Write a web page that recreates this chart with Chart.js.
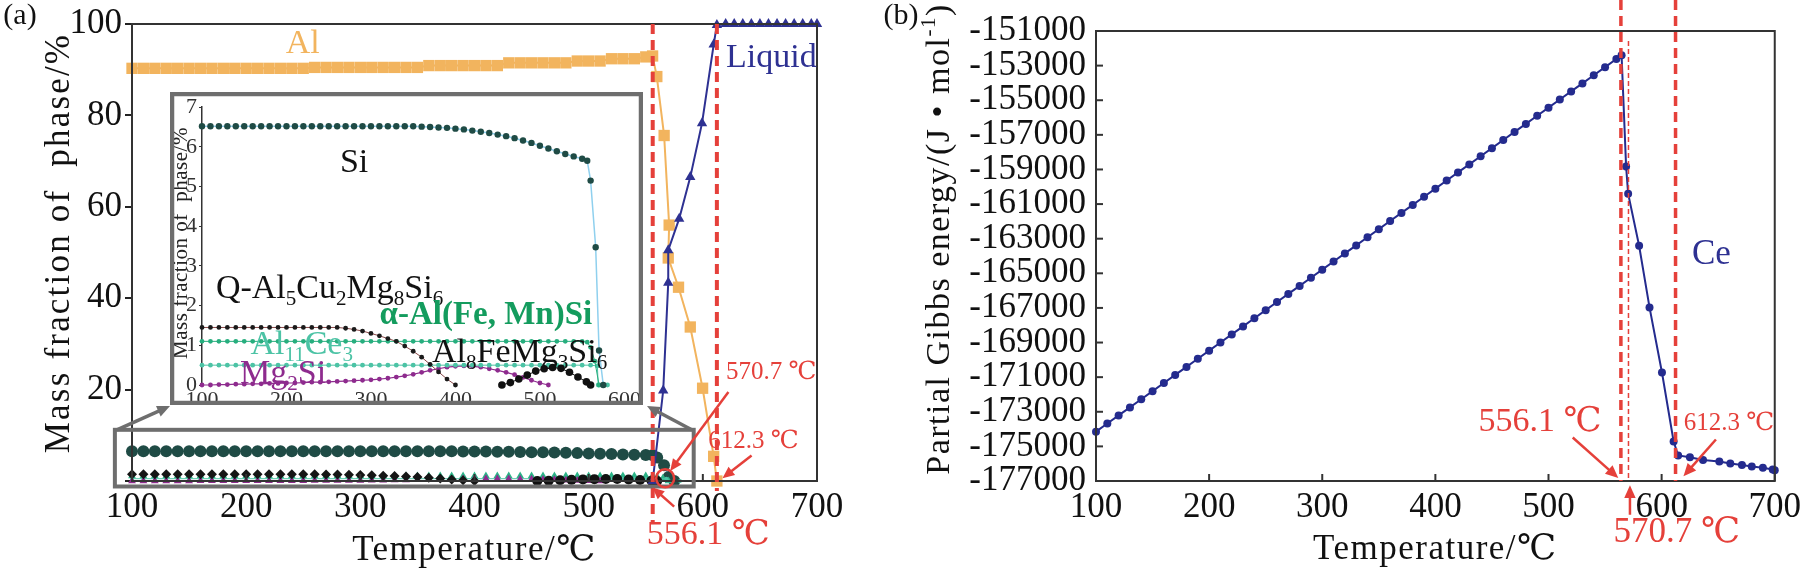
<!DOCTYPE html>
<html lang="en">
<head>
<meta charset="UTF-8">
<title>Phase fraction and partial Gibbs energy</title>
<script src="https://cdn.jsdelivr.net/npm/chart.js"></script>
<style>
  body { margin: 0; background: #fff; width: 1807px; height: 568px; position: relative; overflow: hidden; }
  canvas { position: absolute; top: 0; }
</style>
</head>
<body>
<canvas id="chartA" width="860" height="568" style="left:0"></canvas>
<canvas id="chartB" width="947" height="568" style="left:860px"></canvas>
<canvas id="inset" width="473" height="313"></canvas>

<script>
// ---------- data ----------
const tenStep = [100,110,120,130,140,150,160,170,180,190,200,210,220,230,240,250,260,270,280,290,
                 300,310,320,330,340,350,360,370,380,390,400,410,420,430,440,450,460,470,480,490,
                 500,510,520,530,540,550];

// (a) Al and Liquid, mass %
const alTemp = [...tenStep, 556, 559.7, 566.1, 570.5, 569.7, 578.7, 589, 599.8, 609.5, 612.3];
const alFrac = [90.3,90.3,90.3,90.3,90.3,90.3,90.3,90.3,90.3,90.3,90.3,90.3,90.3,90.3,90.3,90.3,
                90.5,90.5,90.5,90.5,90.5,90.5,90.5,90.5,90.5,90.5,
                90.9,90.9,90.9,90.9,90.9,90.9,90.9,
                91.5,91.5,91.5,91.5,91.5,91.5,
                91.9,91.9,91.9,92.4,92.4,92.4,92.8,
                93.0, 88.5, 75.6, 56.0, 48.8, 42.4, 33.7, 20.3, 5.4, 0];

const liquidTemp = [556.1, 565.3, 569.7, 569.7, 579.3, 589, 599.3, 609.5, 612.3,
                    620, 627.5, 635, 642.5, 650, 657.5, 665, 672.5, 680, 687.5, 695, 700];
const liquidFrac = [0, 19.8, 43.4, 50.5, 57.4, 66.5, 78.3, 95.5, 99.8,
                    100, 100, 100, 100, 100, 100, 100, 100, 100, 100, 100, 100];

// minor phases, mass % (inset and bottom of panel a)
const siTemp = [...tenStep, 556, 560, 566, 570, 575];
const siFrac = [6.52,6.52,6.52,6.52,6.52,6.52,6.52,6.52,6.52,6.52,6.52,6.52,6.52,
                6.52,6.52,6.52,6.52,6.52,6.52,6.52,6.52,6.52,6.52,6.52,6.52,6.52,
                6.51,6.50,6.49,6.48,6.46,6.44,6.41,6.38,6.35,6.31,
                6.27,6.22,6.16,6.10,6.03,5.96,5.89,5.82,5.76,5.70,
                5.65,5.15,3.47,0.87,0];

const qTemp = [100,110,120,130,140,150,160,170,180,190,200,210,220,230,240,250,260,270,280,290,
               300,310,320,330,340,350,360,370,380,390,400];
const qFrac = [1.45,1.45,1.45,1.45,1.45,1.45,1.45,1.45,1.45,1.45,1.45,1.45,1.45,1.45,1.45,1.45,1.45,
               1.43,1.40,1.36,1.30,1.24,1.17,1.10,0.98,0.85,0.70,0.52,0.33,0.15,0];

const alphaTemp = [...tenStep, 556, 560, 565, 570];
const alphaFrac = [1.1,1.1,1.1,1.1,1.1,1.1,1.1,1.1,1.1,1.1,1.1,1.1,1.1,1.1,1.1,1.1,
                   1.1,1.1,1.1,1.1,1.1,1.1,1.1,1.1,1.1,1.1,1.1,1.1,1.1,1.1,1.1,
                   1.1,1.1,1.1,1.1,1.1,1.1,1.1,1.1,1.1,1.1,1.1,1.1,1.1,1.1,1.1,
                   1.08,0.95,0.6,0];

const ceTemp = [...tenStep, 560, 568, 569, 580];
const ceFrac = [0.5,0.5,0.5,0.5,0.5,0.5,0.5,0.5,0.5,0.5,0.5,0.5,0.5,0.5,0.5,0.5,
                0.5,0.5,0.5,0.5,0.5,0.5,0.5,0.5,0.5,0.5,0.5,0.5,0.5,0.5,0.5,
                0.5,0.5,0.5,0.5,0.5,0.5,0.5,0.5,0.5,0.5,0.5,0.5,0.5,0.5,0.5,
                0.5,0.48,0,0];

const mgTemp = [100,110,120,130,140,150,160,170,180,190,200,210,220,230,240,250,260,270,280,290,
                300,310,320,330,340,350,360,370,380,390,400,410,420,430,440,450,460,470,480,490,500,510];
const mgFrac = [0,0,0.01,0.01,0.02,0.02,0.03,0.03,0.04,0.04,0.05,0.05,0.06,0.07,0.07,0.08,0.09,0.10,0.11,0.12,
                0.13,0.15,0.17,0.20,0.23,0.27,0.32,0.37,0.41,0.45,0.47,0.48,0.47,0.45,0.41,0.37,0.32,0.26,0.19,0.12,0.05,0];

const al8Temp = [455,465,475,485,495,505,515,525,535,545,555,560];
const al8Frac = [0,0.06,0.15,0.25,0.35,0.41,0.44,0.42,0.32,0.20,0.08,0];

// (b) partial Gibbs energy of Ce, J/mol
const gibbsTemp = [...tenStep, 560, 564.6, 568.6, 570.4, 580.1, 589.3, 600.3, 610.6,
                   614.6, 625, 636.6, 651, 660.7, 671, 679.7, 689.5, 698.2, 700];
const gibbsEnergy = [-174150,-173680,-173210,-172750,-172280,-171810,-171340,-170870,-170410,-169940,
                     -169470,-169000,-168530,-168070,-167600,-167130,-166660,-166190,-165730,-165260,
                     -164790,-164320,-163850,-163390,-162920,-162450,-161980,-161510,-161050,-160580,
                     -160110,-159640,-159170,-158710,-158240,-157770,-157300,-156830,-156370,-155900,
                     -155430,-154960,-154490,-154030,-153560,-153090,
                     -152620,-152400,-158830,-160400,-163410,-166970,-170730,-174720,
                     -175520,-175630,-175790,-175870,-175990,-176070,-176160,-176240,-176340,-176380];

// axis ticks
const tempTicks = [100, 200, 300, 400, 500, 600, 700];
const fracTicks = [0, 20, 40, 60, 80, 100];
const insetTempTicks = [100, 200, 300, 400, 500, 600];
const insetFracTicks = [0, 1, 2, 3, 4, 5, 6, 7];
const gibbsTicks = [-177000,-175000,-173000,-171000,-169000,-167000,-165000,
                    -163000,-161000,-159000,-157000,-155000,-153000,-151000];

// marked temperatures
const markA = [556.1, 612.3];
const markB = [564, 612.3];
const eutectic = 570.7;

// ---------- styling ----------
const FONT = '"Liberation Serif", "DejaVu Serif", "Times New Roman", serif';
const RED = '#E5403A';
const ORANGE = '#F2B45E';
const NAVY = '#2E3192';
const GRAY = '#6E6E6E';
const insetRect = { left: 170, top: 92, width: 473, height: 313 };

Chart.defaults.font.family = FONT;
Chart.defaults.color = '#111';
Chart.defaults.animation = false;
Chart.defaults.events = [];
Chart.defaults.plugins.legend.display = false;
Chart.defaults.plugins.tooltip.enabled = false;

const pts = (xs, ys) => xs.map((x, i) => ({ x: x, y: ys[i] }));
const fixTicks = arr => scale => { scale.ticks = arr.map(v => ({ value: v })); };

function series(label, xs, ys, color, opts) {
  return Object.assign({
    label: label, data: pts(xs, ys), borderColor: color, backgroundColor: color,
    pointBackgroundColor: color, pointBorderColor: color, pointBorderWidth: 0,
    borderWidth: 1.5, pointRadius: 3, pointStyle: 'circle', tension: 0, clip: false
  }, opts || {});
}

function richText(ctx, parts, x, y, size, color, weight) {
  ctx.save();
  ctx.fillStyle = color;
  ctx.textBaseline = 'middle';
  ctx.textAlign = 'left';
  const w = weight || 'normal';
  const items = parts.map(p => {
    const t = typeof p === 'string' ? p : p[0];
    const kind = typeof p === 'string' ? '' : p[1];
    const s = kind ? size * 0.62 : size;
    ctx.font = w + ' ' + s + 'px ' + FONT;
    return { t: t, kind: kind, s: s, w: ctx.measureText(t).width };
  });
  let cx = x - items.reduce((a, b) => a + b.w, 0) / 2;
  items.forEach(it => {
    ctx.font = w + ' ' + it.s + 'px ' + FONT;
    const dy = it.kind === 'sub' ? size * 0.3 : it.kind === 'sup' ? -size * 0.3 : 0;
    ctx.fillText(it.t, cx, y + dy);
    cx += it.w;
  });
  ctx.restore();
}

function vText(ctx, parts, x, y, size, color, spacing) {
  ctx.save();
  ctx.translate(x, y);
  ctx.rotate(-Math.PI / 2);
  ctx.letterSpacing = (spacing || 0) + 'px';
  richText(ctx, parts, 0, 0, size, color);
  ctx.restore();
}

function arrow(ctx, x0, y0, x1, y1, color, lw, head) {
  const a = Math.atan2(y1 - y0, x1 - x0);
  ctx.save();
  ctx.strokeStyle = color; ctx.fillStyle = color; ctx.lineWidth = lw;
  ctx.beginPath();
  ctx.moveTo(x0, y0);
  ctx.lineTo(x1 - Math.cos(a) * head * 0.8, y1 - Math.sin(a) * head * 0.8);
  ctx.stroke();
  ctx.beginPath();
  ctx.moveTo(x1, y1);
  ctx.lineTo(x1 - head * Math.cos(a - 0.42), y1 - head * Math.sin(a - 0.42));
  ctx.lineTo(x1 - head * Math.cos(a + 0.42), y1 - head * Math.sin(a + 0.42));
  ctx.closePath();
  ctx.fill();
  ctx.restore();
}

// frame round the plot area, short inward ticks on x (and on y when asked)
function frameAndTicks(ctx, chart, yTicksInside) {
  const ca = chart.chartArea;
  ctx.save();
  ctx.strokeStyle = '#333';
  ctx.lineWidth = 2;
  ctx.strokeRect(ca.left, ca.top, ca.right - ca.left, ca.bottom - ca.top);
  const sx = chart.scales.x, sy = chart.scales.y;
  tempTicks.forEach(v => {
    const px = sx.getPixelForValue(v);
    ctx.beginPath(); ctx.moveTo(px, ca.bottom); ctx.lineTo(px, ca.bottom - 7); ctx.stroke();
  });
  if (yTicksInside) {
    yTicksInside.forEach(v => {
      const py = sy.getPixelForValue(v);
      ctx.beginPath(); ctx.moveTo(ca.left, py); ctx.lineTo(ca.left + 7, py); ctx.stroke();
    });
  }
  ctx.restore();
}

function dashed(ctx, x, y0, y1, lw, dash) {
  ctx.save();
  ctx.strokeStyle = RED; ctx.lineWidth = lw; ctx.setLineDash(dash);
  ctx.beginPath(); ctx.moveTo(x, y0); ctx.lineTo(x, y1); ctx.stroke();
  ctx.restore();
}

// ---------- panel (a) ----------
const textsA = [
  { parts: ['Al'], t: 249.5, f: 95.5, size: 34, color: ORANGE },
  { parts: ['Liquid'], t: 660, f: 92.5, size: 34, color: NAVY },
  { parts: ['570.7 ℃'], t: 660, f: 23.8, size: 25, color: RED },
  { parts: ['612.3 ℃'], t: 644.4, f: 8.6, size: 25, color: RED },
  { parts: ['556.1 ℃'], t: 604.8, f: -11.9, size: 34, color: RED }
];
const arrowsA = [
  [622.4, 19.5, 571.4, 2.2],
  [642.7, 5.6, 617.2, 0.6],
  [574.9, -5.6, 555.8, -1.4]
];
const zoomWindow = { t0: 85, t1: 592, f0: -1.2, f1: 11.2 };

const decorA = {
  id: 'decorA',
  afterDraw(chart) {
    const ctx = chart.ctx, sx = chart.scales.x, sy = chart.scales.y, ca = chart.chartArea;
    frameAndTicks(ctx, chart);
    dashed(ctx, sx.getPixelForValue(markA[0]), ca.top, ca.bottom + 42, 4, [10, 6]);
    dashed(ctx, sx.getPixelForValue(markA[1]), ca.top, ca.bottom + 10, 4, [10, 6]);

    // zoom window and connectors to the inset
    const bx0 = sx.getPixelForValue(zoomWindow.t0), bx1 = sx.getPixelForValue(zoomWindow.t1);
    const by0 = sy.getPixelForValue(zoomWindow.f1), by1 = sy.getPixelForValue(zoomWindow.f0);
    ctx.save();
    ctx.strokeStyle = GRAY; ctx.lineWidth = 4;
    ctx.strokeRect(bx0, by0, bx1 - bx0, by1 - by0);
    ctx.restore();
    const ib = insetRect.top + insetRect.height;
    arrow(ctx, bx0 + 2, by0, insetRect.left, ib + 1, GRAY, 3.5, 14);
    arrow(ctx, bx1 - 2, by0, insetRect.left + insetRect.width + 4, ib + 1, GRAY, 3.5, 14);

    // red marks
    ctx.save();
    ctx.strokeStyle = RED; ctx.lineWidth = 2.5;
    ctx.beginPath();
    ctx.arc(sx.getPixelForValue(567), sy.getPixelForValue(0.6), 9, 0, Math.PI * 2);
    ctx.stroke();
    ctx.restore();
    arrowsA.forEach(a => arrow(ctx, sx.getPixelForValue(a[0]), sy.getPixelForValue(a[1]),
                                    sx.getPixelForValue(a[2]), sy.getPixelForValue(a[3]), RED, 2.5, 13));
    textsA.forEach(t => richText(ctx, t.parts, sx.getPixelForValue(t.t), sy.getPixelForValue(t.f), t.size, t.color));

    // titles
    const cx = (ca.left + ca.right) / 2;
    ctx.save(); ctx.letterSpacing = '1.5px';
    richText(ctx, ['Temperature/℃'], cx, 551, 35, '#111');
    ctx.restore();
    vText(ctx, ['Mass fraction of  phase/%'], 60, 243, 35, '#111', 2.2);
    richText(ctx, ['(a)'], 20, 16, 30, '#111');
  }
};

new Chart(document.getElementById('chartA'), {
  type: 'line',
  data: {
    datasets: [
      series('Liquid', liquidTemp, liquidFrac, NAVY, { pointStyle: 'triangle', pointRadius: 6, borderWidth: 2 }),
      series('Al', alTemp, alFrac, ORANGE, { pointStyle: 'rect', pointRadius: 8, borderWidth: 2 }),
      series('Al8FeMg3Si6', al8Temp, al8Frac, '#111', { pointRadius: 5, showLine: false }),
      series('Q-Al5Cu2Mg8Si6', qTemp, qFrac, '#151515', { pointStyle: 'rectRot', pointRadius: 5, showLine: false }),
      series('Mg2Si', mgTemp, mgFrac, '#8E2B8E', { pointStyle: 'triangle', pointRadius: 4.5, showLine: false }),
      series('Al11Ce3', ceTemp, ceFrac, '#4CC3A5', { pointRadius: 2, borderWidth: 1 }),
      series('α-Al(Fe, Mn)Si', alphaTemp, alphaFrac, '#2BB487', { pointStyle: 'triangle', pointRadius: 4.5, showLine: false }),
      series('Si', siTemp, siFrac, '#1F4B45', { pointRadius: 6, borderColor: '#8FD0EE', borderWidth: 1.5 })
    ]
  },
  options: {
    responsive: false,
    layout: { padding: { top: 12, right: 43, left: 0, bottom: 0 } },
    scales: {
      x: {
        type: 'linear', min: 100, max: 700,
        afterBuildTicks: fixTicks(tempTicks),
        afterFit: s => { s.height = 87; },
        grid: { display: false, drawTicks: false },
        border: { display: true, color: '#222', width: 2 },
        ticks: { font: { size: 35 }, padding: 6, color: '#111', autoSkip: false, maxRotation: 0 }
      },
      y: {
        min: 0, max: 100,
        afterBuildTicks: fixTicks(fracTicks),
        afterFit: s => { s.width = 132; },
        grid: { drawOnChartArea: false, tickLength: 7, color: '#222', lineWidth: 2 },
        border: { display: true, color: '#222', width: 2 },
        ticks: { font: { size: 35 }, padding: 3, color: '#111', autoSkip: false,
                 callback: v => (v === 0 ? '' : v) }
      }
    }
  },
  plugins: [decorA]
});

// ---------- inset ----------
const insetCanvas = document.getElementById('inset');
insetCanvas.style.left = insetRect.left + 'px';
insetCanvas.style.top = insetRect.top + 'px';

const textsInset = [
  { parts: ['Si'], t: 280, f: 5.6, size: 34, color: '#111' },
  { parts: ['Q-Al', ['5', 'sub'], 'Cu', ['2', 'sub'], 'Mg', ['8', 'sub'], 'Si', ['6', 'sub']], t: 251, f: 2.42, size: 34, color: '#111' },
  { parts: ['α-Al(Fe, Mn)Si'], t: 436, f: 1.75, size: 33, color: '#149C5E', weight: 'bold' },
  { parts: ['Al', ['11', 'sub'], 'Ce', ['3', 'sub']], t: 218, f: 1.0, size: 34, color: '#4CC3A5' },
  { parts: ['Mg', ['2', 'sub'], 'Si'], t: 196, f: 0.27, size: 34, color: '#8E2B8E' },
  { parts: ['Al', ['8', 'sub'], 'FeMg', ['3', 'sub'], 'Si', ['6', 'sub']], t: 476, f: 0.8, size: 34, color: '#111' }
];

const decorInset = {
  id: 'decorInset',
  beforeDraw(chart) {
    const ctx = chart.ctx;
    ctx.save(); ctx.fillStyle = '#fff'; ctx.fillRect(0, 0, chart.width, chart.height); ctx.restore();
  },
  afterDraw(chart) {
    const ctx = chart.ctx, sx = chart.scales.x, sy = chart.scales.y;
    textsInset.forEach(t => richText(ctx, t.parts, sx.getPixelForValue(t.t), sy.getPixelForValue(t.f), t.size, t.color, t.weight));
    vText(ctx, ['Mass fraction of  phase/%'], 11, 151, 21, '#222', 0.5);
    ctx.save();
    ctx.strokeStyle = GRAY; ctx.lineWidth = 4.5;
    ctx.strokeRect(2, 2, chart.width - 4, chart.height - 4);
    ctx.restore();
  }
};

new Chart(insetCanvas, {
  type: 'line',
  data: {
    datasets: [
      series('Si', siTemp, siFrac, '#1F4B45', { pointRadius: 3.2, borderColor: '#8FD0EE', borderWidth: 1.5 }),
      series('Al8FeMg3Si6', al8Temp, al8Frac, '#111', { pointRadius: 3.8, borderWidth: 1 }),
      series('Q-Al5Cu2Mg8Si6', qTemp, qFrac, '#1a1a1a', { pointRadius: 2.4, borderColor: '#8a4a4a', borderWidth: 1 }),
      series('α-Al(Fe, Mn)Si', alphaTemp, alphaFrac, '#27AE7E', { pointRadius: 2.4, borderWidth: 1 }),
      series('Al11Ce3', ceTemp, ceFrac, '#4CC3A5', { pointRadius: 2.4, borderWidth: 1 }),
      series('Mg2Si', mgTemp, mgFrac, '#8E2B8E', { pointRadius: 2.4, borderWidth: 1.2 })
    ]
  },
  options: {
    responsive: false,
    layout: { padding: { top: 11, right: 0, left: 0, bottom: 0 } },
    scales: {
      x: {
        type: 'linear', min: 100, max: 612,
        afterBuildTicks: fixTicks(insetTempTicks),
        afterFit: s => { s.height = 20; },
        grid: { display: false, drawTicks: false },
        border: { display: false },
        ticks: { font: { size: 22 }, padding: 2, color: '#333', autoSkip: false, maxRotation: 0 }
      },
      y: {
        min: 0, max: 7,
        afterBuildTicks: fixTicks(insetFracTicks),
        afterFit: s => { s.width = 32; },
        grid: { drawOnChartArea: false, tickLength: 3, color: '#333' },
        border: { display: true, color: '#333', width: 1.5 },
        ticks: { font: { size: 22 }, padding: 2, color: '#333', autoSkip: false }
      }
    }
  },
  plugins: [decorInset]
});

// ---------- panel (b) ----------
const textsB = [
  { parts: ['556.1 ℃'], t: 492.6, e: -173580, size: 34, color: RED },
  { parts: ['612.3 ℃'], t: 659.6, e: -173680, size: 25, color: RED },
  { parts: ['570.7 ℃'], t: 613.5, e: -180000, size: 35, color: RED },
  { parts: ['Ce'], t: 644, e: -163920, size: 35, color: NAVY }
];
const arrowsB = [
  [521.4, -174490, 561.7, -176830],
  [648, -174600, 619.3, -176730],
  [572, -178950, 572, -177250]
];

const decorB = {
  id: 'decorB',
  afterDraw(chart) {
    const ctx = chart.ctx, sx = chart.scales.x, sy = chart.scales.y, ca = chart.chartArea;
    frameAndTicks(ctx, chart, gibbsTicks);
    markB.forEach(v => dashed(ctx, sx.getPixelForValue(v), 0, ca.bottom, 3.5, [10, 6]));
    dashed(ctx, sx.getPixelForValue(eutectic), ca.top + 10, ca.bottom, 1.5, [5, 3]);
    arrowsB.forEach(a => arrow(ctx, sx.getPixelForValue(a[0]), sy.getPixelForValue(a[1]),
                                    sx.getPixelForValue(a[2]), sy.getPixelForValue(a[3]), RED, 2.5, 14));
    textsB.forEach(t => richText(ctx, t.parts, sx.getPixelForValue(t.t), sy.getPixelForValue(t.e), t.size, t.color));

    const cx = (ca.left + ca.right) / 2;
    ctx.save(); ctx.letterSpacing = '1.5px';
    richText(ctx, ['Temperature/℃'], cx, 550, 35, '#111');
    ctx.restore();
    vText(ctx, ['Partial Gibbs energy/(J • mol', ['-1', 'sup'], ')'], 80, 239, 34, '#111', 1.5);
    richText(ctx, ['(b)'], 41, 16, 30, '#111');
  }
};

new Chart(document.getElementById('chartB'), {
  type: 'line',
  data: {
    datasets: [
      series('Ce', gibbsTemp, gibbsEnergy, '#242B8E', { pointRadius: 4, borderWidth: 2 })
    ]
  },
  options: {
    responsive: false,
    layout: { padding: { top: 12, right: 27, left: 0, bottom: 0 } },
    scales: {
      x: {
        type: 'linear', min: 100, max: 700,
        afterBuildTicks: fixTicks(tempTicks),
        afterFit: s => { s.height = 87; },
        grid: { display: false, drawTicks: false },
        border: { display: true, color: '#222', width: 2 },
        ticks: { font: { size: 35 }, padding: 6, color: '#111', autoSkip: false, maxRotation: 0 }
      },
      y: {
        min: -177000, max: -151000,
        afterBuildTicks: fixTicks(gibbsTicks),
        afterFit: s => { s.width = 236; },
        grid: { drawOnChartArea: false, drawTicks: false },
        border: { display: true, color: '#222', width: 2 },
        ticks: { font: { size: 35 }, padding: 10, color: '#111', autoSkip: false, callback: v => String(v) }
      }
    }
  },
  plugins: [decorB]
});
</script>
</body>
</html>
